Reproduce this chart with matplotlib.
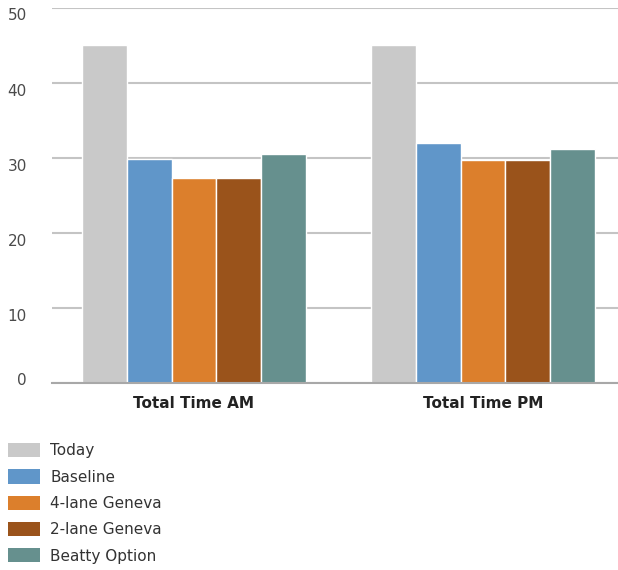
import numpy as np
import matplotlib
matplotlib.use("Agg")
import matplotlib.pyplot as plt
import matplotlib.transforms as mtransforms
from matplotlib.patches import Patch

categories = ["Total Time AM", "Total Time PM"]
series = ["Today", "Baseline", "4-lane Geneva", "2-lane Geneva", "Beatty Option"]
today = [45, 45]
baseline = [29.8, 31.9]
four_lane = [27.3, 29.7]
two_lane = [27.3, 29.7]
beatty = [30.5, 31.2]
colors = ["#c9c9c9", "#6096c9", "#dc7f2c", "#9a531b", "#66908e"]

values = [today, baseline, four_lane, two_lane, beatty]

plt.rcParams['font.family'] = ['DejaVu Sans']

fig = plt.figure(figsize=(6.18, 5.70), dpi=100)
ax = fig.add_axes([52 / 618, 187 / 570, 566 / 618, 375.5 / 570])

x = np.arange(len(categories))
width = 0.155
for i, (name, vals) in enumerate(zip(series, values)):
    ax.bar(x + (i - 2) * width, vals, width, color=colors[i],
           edgecolor="white", linewidth=1, zorder=3, label=name)

ax.set_xlim(-0.491, 1.467)
ax.set_ylim(0, 50)
ax.set_yticks(range(0, 51, 10))
ax.yaxis.grid(True, color="#c4c4c4", linewidth=1.5, zorder=0)
ax.set_axisbelow(True)
for s in ["top", "right", "left"]:
    ax.spines[s].set_visible(False)
ax.spines["bottom"].set_color("#a8a8a8")
ax.spines["bottom"].set_linewidth(1.5)
ax.spines["bottom"].set_zorder(4)
ax.tick_params(axis="y", length=0, pad=18, labelsize=11, labelcolor="#4a4a4a")
ax.tick_params(axis="x", length=0, pad=9)
ax.set_xticks(x)
ax.set_xticklabels(categories, fontsize=11, fontweight="bold", color="#222222")

# the y labels sit a little below their gridlines, except the 0 label
for lbl in ax.get_yticklabels():
    dy = 4 if lbl.get_text() == "0" else -7
    lbl.set_transform(lbl.get_transform() +
                      mtransforms.ScaledTranslation(0, dy / 100, fig.dpi_scale_trans))

handles = [Patch(facecolor=c, edgecolor="none") for c in colors]
fig.legend(handles, series, loc="upper left", bbox_to_anchor=(2 / 618, 1 - 437 / 570),
           frameon=False, fontsize=11, handlelength=2.1, handleheight=1.05,
           labelspacing=0.72, handletextpad=0.65, borderaxespad=0,
           labelcolor="#333333")

fig.savefig("out.png", dpi=100)
